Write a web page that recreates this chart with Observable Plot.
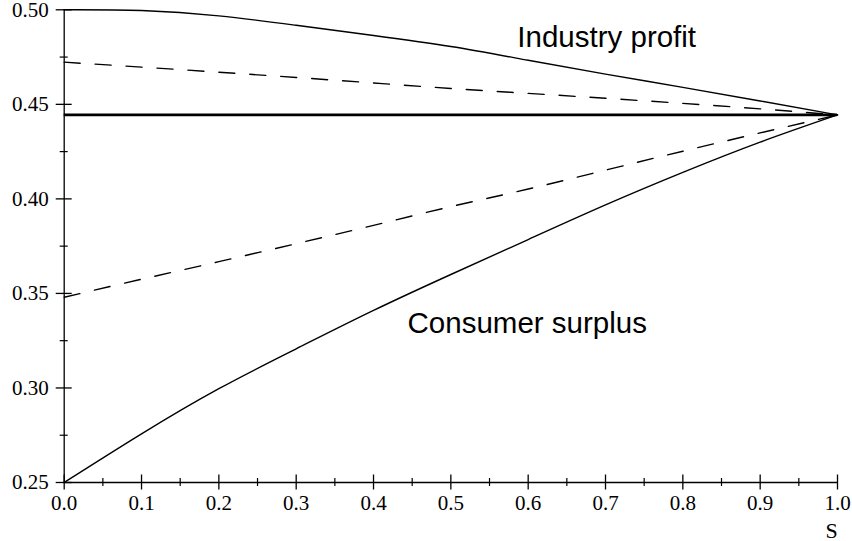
<!DOCTYPE html>
<html>
<head>
<meta charset="utf-8">
<script src="https://cdn.jsdelivr.net/npm/d3@7"></script>
<script src="https://cdn.jsdelivr.net/npm/@observablehq/plot@0.6"></script>
<style>
  html, body { margin: 0; padding: 0; background: #fff; }
  #chart svg { display: block; }
</style>
</head>
<body>
<div id="chart"></div>
<script>
// ---- data ----
const sValues          = [0, 0.1, 0.2, 0.3, 0.4, 0.5, 0.6, 0.7, 0.8, 0.9, 1.0];
const industryProfit   = [0.5000, 0.4996, 0.4968, 0.4918, 0.4864, 0.4806, 0.4733, 0.4660, 0.4590, 0.4518, 0.4444];
const upperDashed      = [0.4723, 0.4697, 0.4670, 0.4642, 0.4613, 0.4584, 0.4558, 0.4532, 0.4505, 0.4476, 0.4444];
const lowerDashed      = [0.3480, 0.3575, 0.3668, 0.3763, 0.3860, 0.3959, 0.4052, 0.4152, 0.4252, 0.4349, 0.4444];
const consumerSurplus  = [0.2500, 0.2757, 0.2996, 0.3207, 0.3410, 0.3600, 0.3785, 0.3968, 0.4140, 0.4300, 0.4444];
const benchmark        = [4 / 9];

const xMajorTicks = [0, 0.1, 0.2, 0.3, 0.4, 0.5, 0.6, 0.7, 0.8, 0.9, 1.0];
const xMinorTicks = [0.05, 0.15, 0.25, 0.35, 0.45, 0.55, 0.65, 0.75, 0.85, 0.95];
const yMajorTicks = [0.25, 0.30, 0.35, 0.40, 0.45, 0.50];
const yMinorTicks = [0.275, 0.325, 0.375, 0.425, 0.475];
const xLabel = "S";

const annotationText = ["Industry profit", "Consumer surplus"];
const annotationS    = [0.586, 0.444];
const annotationV    = [0.4802, 0.3293];

// ---- build tables ----
const series = [
  {name: "Industry profit", values: industryProfit, dash: null},
  {name: "Upper dashed", values: upperDashed, dash: "16,15"},
  {name: "Lower dashed", values: lowerDashed, dash: "16,15"},
  {name: "Consumer surplus", values: consumerSurplus, dash: null}
];
const rows = series.flatMap(sr => sValues.map((s, i) => ({series: sr.name, s, v: sr.values[i]})));
const annotations = annotationText.map((t, i) => ({text: t, s: annotationS[i], v: annotationV[i]}));

const W = 852, H = 541;
const mL = 63.7, mR = 15, mT = 9.3, mB = 59;
const plotW = W - mL - mR, plotH = H - mT - mB;
const serif = "Liberation Serif, Times New Roman, Times, serif";
const sans = "Liberation Sans, Arial, Helvetica, sans-serif";

const lineMarks = series.map(sr =>
  Plot.line(rows.filter(r => r.series === sr.name), {
    x: "s", y: "v", stroke: "black", strokeWidth: 1.4,
    strokeDasharray: sr.dash, curve: "natural"
  })
);

const chart = Plot.plot({
  width: W, height: H,
  marginLeft: mL, marginRight: mR, marginTop: mT, marginBottom: mB,
  style: {fontFamily: serif, background: "white", overflow: "visible"},
  x: {domain: [0, 1], axis: null},
  y: {domain: [0.25, 0.5], axis: null},
  marks: [
    // axis lines
    Plot.ruleX([0], {stroke: "black", strokeWidth: 1.3}),
    Plot.ruleY([0.25], {stroke: "black", strokeWidth: 1.3}),
    // x ticks (crossing the axis)
    Plot.tickX(xMajorTicks, {x: d => d, stroke: "black", strokeWidth: 1.3, insetTop: plotH - 7.5, insetBottom: -7.5}),
    Plot.tickX(xMinorTicks, {x: d => d, stroke: "black", strokeWidth: 1.2, insetTop: plotH - 4, insetBottom: -4}),
    // y ticks
    Plot.tickY(yMajorTicks, {y: d => d, stroke: "black", strokeWidth: 1.3, insetLeft: -8, insetRight: plotW - 8}),
    Plot.tickY(yMinorTicks, {y: d => d, stroke: "black", strokeWidth: 1.2, insetLeft: -4, insetRight: plotW - 4}),
    // tick labels
    Plot.text(xMajorTicks, {x: d => d, frameAnchor: "bottom", dy: 27.3, text: d => d.toFixed(1),
      fontFamily: serif, fontSize: 21, fill: "black"}),
    Plot.text(yMajorTicks, {y: d => d, frameAnchor: "left", dx: -15.4, textAnchor: "end", text: d => d.toFixed(2),
      fontFamily: serif, fontSize: 21, fill: "black"}),
    Plot.text([xLabel], {x: 1, frameAnchor: "bottom", dx: -6, dy: 55, lineAnchor: "bottom", text: d => d,
      fontFamily: serif, fontSize: 22, fill: "black"}),
    // benchmark thick line
    Plot.ruleY(benchmark, {stroke: "black", strokeWidth: 2.6}),
    // curves
    ...lineMarks,
    // annotations
    Plot.text(annotations, {x: "s", y: "v", text: "text", textAnchor: "start", lineAnchor: "bottom",
      fontFamily: sans, fontSize: 29.5, fill: "black"})
  ]
});

document.getElementById("chart").appendChild(chart);
</script>
</body>
</html>
